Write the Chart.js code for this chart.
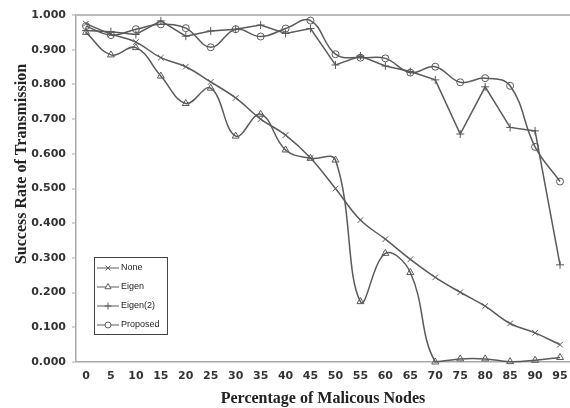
<!DOCTYPE html>
<html>
<head>
<meta charset="utf-8">
<title>Success Rate of Transmission</title>
<script src="https://cdn.jsdelivr.net/npm/chart.js@4.4.1/dist/chart.umd.min.js"></script>
<style>
    body { margin: 0; background: #fff; }
    #wrap { position: relative; width: 570px; height: 408px; }
</style>
</head>
<body>
<div id="wrap"><canvas id="rateChart"></canvas></div>
<script>
// percentage of malicious nodes (x categories)
const categories = [0, 5, 10, 15, 20, 25, 30, 35, 40, 45, 50, 55, 60, 65, 70, 75, 80, 85, 90, 95];

// success rate per series
const noneValues = [0.975, 0.945, 0.922, 0.877, 0.851, 0.807, 0.761, 0.700, 0.654, 0.588, 0.500, 0.409, 0.354, 0.296, 0.244, 0.201, 0.161, 0.111, 0.084, 0.050];
const eigenValues = [0.950, 0.885, 0.906, 0.824, 0.745, 0.789, 0.651, 0.714, 0.611, 0.587, 0.582, 0.174, 0.313, 0.258, 0.000, 0.009, 0.009, 0.001, 0.005, 0.013];
const eigen2Values = [0.955, 0.952, 0.944, 0.983, 0.939, 0.954, 0.959, 0.971, 0.947, 0.961, 0.856, 0.882, 0.853, 0.837, 0.813, 0.657, 0.793, 0.676, 0.666, 0.280];
const proposedValues = [0.968, 0.942, 0.959, 0.973, 0.962, 0.907, 0.959, 0.938, 0.961, 0.984, 0.887, 0.877, 0.875, 0.834, 0.851, 0.806, 0.818, 0.796, 0.620, 0.520];

const seriesNames = ["None", "Eigen", "Eigen(2)", "Proposed"];
const yTickValues = [0, 0.1, 0.2, 0.3, 0.4, 0.5, 0.6, 0.7, 0.8, 0.9, 1.0];

const lineColor = "#5a5a5a";
const axisColor = "#aaa";

function toPoints(values) {
    return values.map((v, i) => ({ x: categories[i], y: v }));
}

function makeSeries(label, values, pointStyle, tension) {
    return {
        label: label,
        data: toPoints(values),
        borderColor: lineColor,
        backgroundColor: "rgba(255,255,255,0)",
        borderWidth: 1.5,
        pointStyle: pointStyle,
        pointRadius: pointStyle === "circle" ? 3.5 : 4,
        pointBorderColor: lineColor,
        pointBorderWidth: 1,
        tension: tension,
        clip: false
    };
}

const datasets = [
    makeSeries(seriesNames[0], noneValues, "crossRot", 0.4),
    makeSeries(seriesNames[1], eigenValues, "triangle", 0.4),
    makeSeries(seriesNames[2], eigen2Values, "cross", 0),
    makeSeries(seriesNames[3], proposedValues, "circle", 0.4)
];

// y axis title sits a bit above the plot centre, drawn by hand
const yTitlePlugin = {
    id: "yTitle",
    afterDraw(chart) {
        const ctx = chart.ctx;
        ctx.save();
        ctx.translate(22, 164);
        ctx.rotate(-Math.PI / 2);
        ctx.font = "bold 16px 'Liberation Serif'";
        ctx.fillStyle = "#222";
        ctx.textAlign = "center";
        ctx.textBaseline = "middle";
        ctx.fillText("Success Rate of Transmission", 0, 0);
        ctx.restore();
    }
};

// boxed legend inside the plot, lower left
const boxLegendPlugin = {
    id: "boxLegend",
    afterDraw(chart) {
        const ctx = chart.ctx;
        const left = 94, top = 257, width = 73, height = 77;
        ctx.save();
        ctx.fillStyle = "#fff";
        ctx.fillRect(left, top, width, height);
        ctx.strokeStyle = "#444";
        ctx.lineWidth = 1;
        ctx.strokeRect(left + 0.5, top + 0.5, width, height);

        chart.data.datasets.forEach((ds, i) => {
            const y = top + 11 + i * 19;
            ctx.strokeStyle = lineColor;
            ctx.lineWidth = 1;
            ctx.beginPath();
            ctx.moveTo(left + 3, y);
            ctx.lineTo(left + 25, y);
            ctx.stroke();
            ctx.fillStyle = "#fff";
            Chart.helpers.drawPoint(ctx, {
                pointStyle: ds.pointStyle,
                radius: ds.pointStyle === "circle" ? 3 : 3.5,
                borderWidth: 1,
                rotation: 0
            }, left + 14, y);
            ctx.fillStyle = "#222";
            ctx.font = "9px 'Liberation Sans'";
            ctx.textAlign = "left";
            ctx.textBaseline = "middle";
            ctx.fillText(ds.label, left + 27, y);
        });
        ctx.restore();
    }
};

const ctx = document.getElementById("rateChart").getContext("2d");
new Chart(ctx, {
    type: "line",
    data: { datasets },
    plugins: [yTitlePlugin, boxLegendPlugin],
    options: {
        responsive: true,
        maintainAspectRatio: false,
        devicePixelRatio: 1,
        animation: false,
        layout: { autoPadding: false, padding: { top: 15, left: 0, right: 0, bottom: 0 } },
        plugins: {
            legend: { display: false },
            tooltip: { enabled: false }
        },
        scales: {
            x: {
                type: "linear",
                min: -2,
                max: 97,
                afterFit: scale => {
                    scale.height = 46;
                    scale.paddingLeft = 0;
                    scale.paddingRight = 0;
                },
                afterBuildTicks: scale => {
                    scale.ticks = categories.map(v => ({ value: v }));
                },
                grid: { display: false, drawTicks: false },
                border: { display: true, color: axisColor, width: 1.5 },
                ticks: {
                    autoSkip: false,
                    maxRotation: 0,
                    padding: 8,
                    color: "#333",
                    font: { family: "'DejaVu Sans'", size: 11, weight: "bold" }
                },
                title: {
                    display: true,
                    text: "Percentage of Malicous Nodes",
                    color: "#222",
                    padding: { top: 4, bottom: 0 },
                    font: { family: "'Liberation Serif'", size: 16, weight: "bold" }
                }
            },
            y: {
                min: 0,
                max: 1,
                afterFit: scale => { scale.width = 76; },
                afterBuildTicks: scale => {
                    scale.ticks = yTickValues.map(v => ({ value: v }));
                },
                grid: {
                    color: c => (c.tick && c.tick.value === 1 ? "#bbb" : "rgba(0,0,0,0)"),
                    lineWidth: c => (c.tick && c.tick.value === 1 ? 2 : 0),
                    drawTicks: true,
                    tickLength: 4,
                    tickColor: axisColor,
                    tickWidth: 1
                },
                border: { display: true, color: axisColor, width: 1.5 },
                ticks: {
                    padding: 6,
                    color: "#333",
                    font: { family: "'DejaVu Sans'", size: 11, weight: "bold" },
                    callback: value => Number(value).toFixed(3)
                }
            }
        }
    }
});
</script>
</body>
</html>
